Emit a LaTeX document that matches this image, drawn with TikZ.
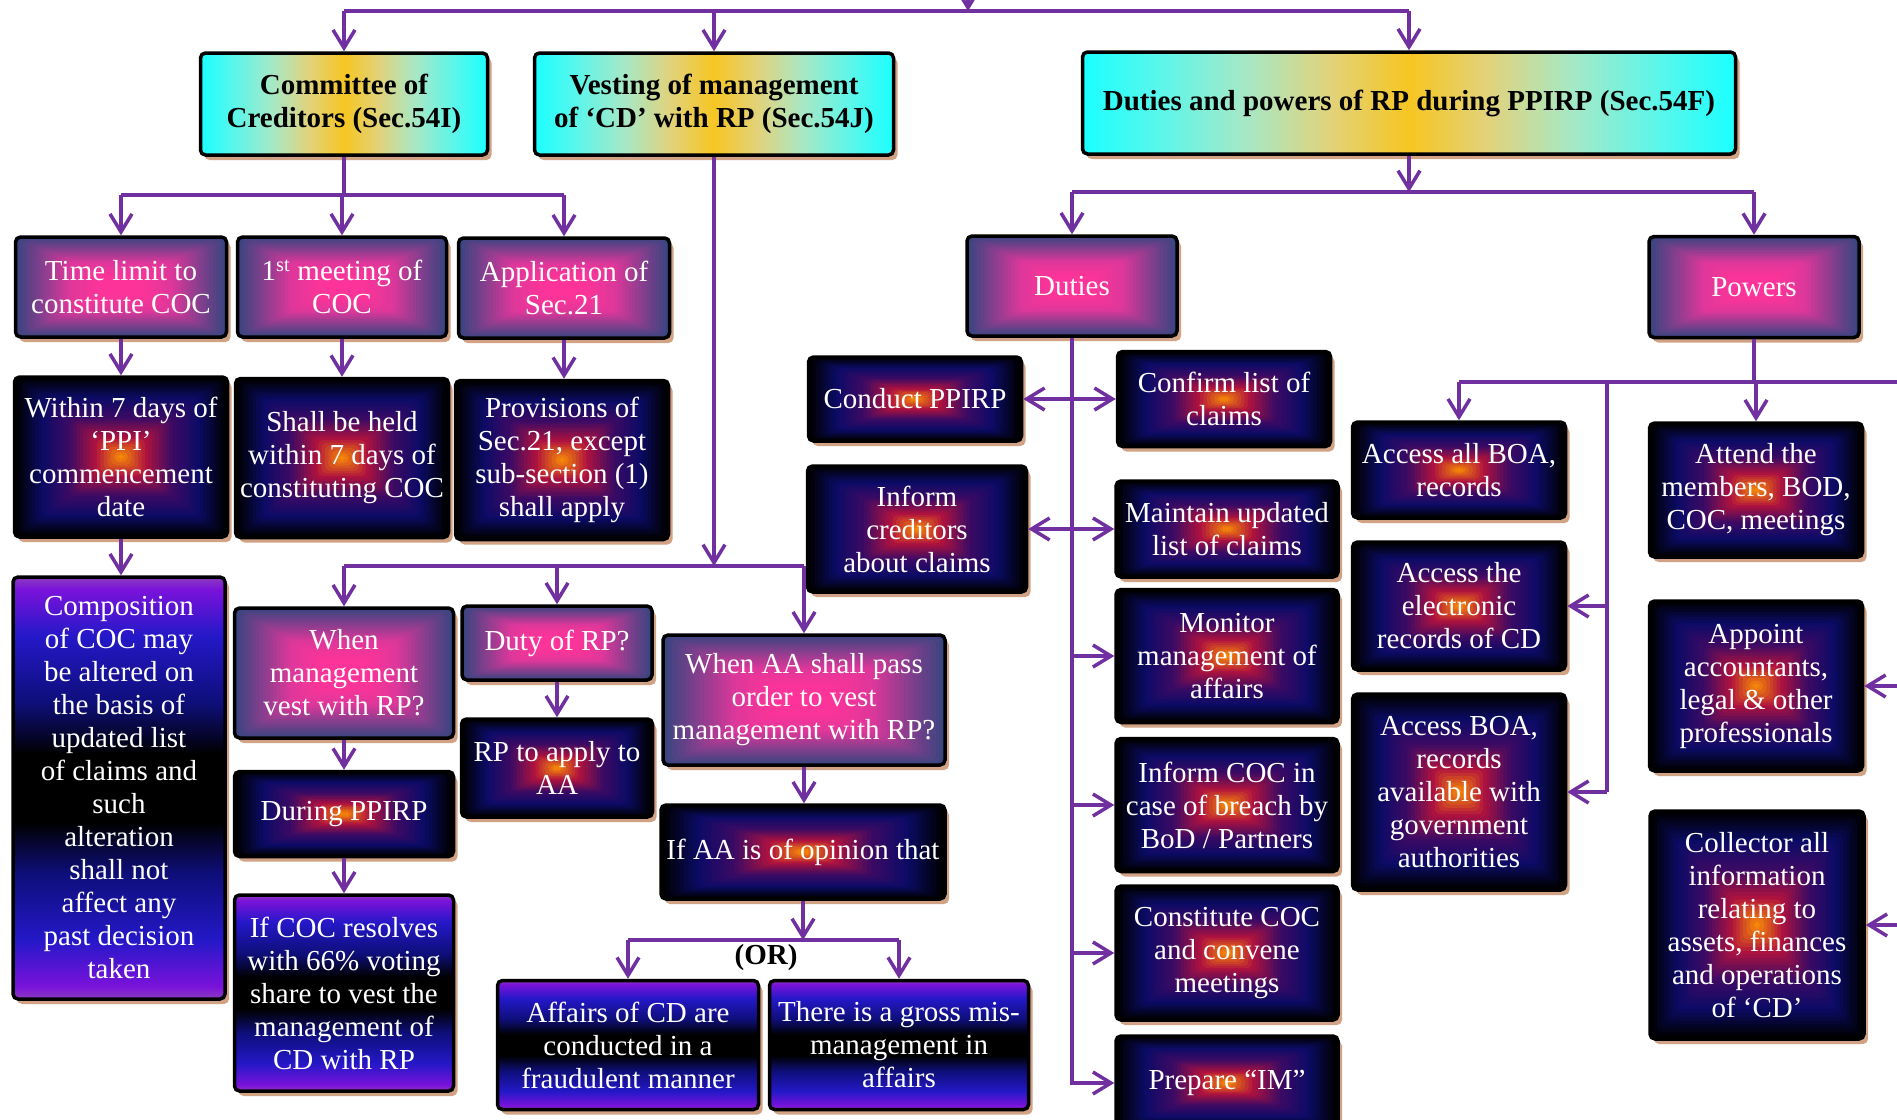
\documentclass[tikz,border=0pt]{standalone}
\usepackage{fontspec}
\setmainfont{Liberation Serif}
\usetikzlibrary{arrows.meta,calc,shadows}

% connectors and shadows
\definecolor{connc}{HTML}{7030A0}
\definecolor{shadowtan}{HTML}{D2A285}
% "fire" box palette, from the edge (0) to the centre (4)
\definecolor{fire0}{HTML}{000000}
\definecolor{fire1}{HTML}{0B0B66}
\definecolor{fire2}{HTML}{3C0A64}
\definecolor{fire3}{HTML}{B0123E}
\definecolor{fire4}{HTML}{FF9800}
% pink box palette, from the edge (0) to the centre (4)
\definecolor{pink0}{HTML}{3A4580}
\definecolor{pink1}{HTML}{8A3E8E}
\definecolor{pink2}{HTML}{DE379A}
\definecolor{pink3}{HTML}{FA3499}
\definecolor{pink4}{HTML}{FF3399}
% cyan/gold heading band
\definecolor{hb0}{HTML}{1AFFFF}
\definecolor{hb1}{HTML}{5CF6EA}
\definecolor{hb2}{HTML}{A6E8C6}
\definecolor{hb3}{HTML}{E2D27A}
\definecolor{hb4}{HTML}{F6C622}
% violet/blue/black band
\definecolor{vb0}{HTML}{8C3CC0}
\definecolor{vb1}{HTML}{7A12DA}
\definecolor{vb2}{HTML}{2418C8}
\definecolor{vb3}{HTML}{0E0E78}

\pgfdeclarehorizontalshading{hband}{100bp}{color(0bp)=(hb0); color(25bp)=(hb0);
  color(31bp)=(hb1); color(37.5bp)=(hb2); color(44bp)=(hb3); color(50bp)=(hb4);
  color(56bp)=(hb3); color(62.5bp)=(hb2); color(69bp)=(hb1); color(75bp)=(hb0); color(100bp)=(hb0)}
\pgfdeclareverticalshading{vband}{100bp}{color(0bp)=(vb0); color(25bp)=(vb0);
  color(26.5bp)=(vb1); color(32bp)=(vb2); color(40bp)=(vb3); color(46bp)=(black);
  color(54bp)=(black); color(60bp)=(vb3); color(68bp)=(vb2); color(73.5bp)=(vb1);
  color(75bp)=(vb0); color(100bp)=(vb0)}

% rectangular gradient: nested rectangles shrinking to the centre
\newcommand\nestgrad[2]{%
  \foreach \ngI in {0,...,#2}{%
    \pgfmathsetmacro\ngT{\ngI/(#2+1)}%
    \pgfmathtruncatemacro\ngK{min(3,floor(\ngT*4))}%
    \pgfmathtruncatemacro\ngN{\ngK+1}%
    \pgfmathsetmacro\ngP{(\ngT*4-\ngK)*100}%
    \pgfmathsetmacro\ngH{\ngT/2}%
    \path[fill=#1\ngN!\ngP!#1\ngK]
      ($(path picture bounding box.south west)!\ngH!(path picture bounding box.north east)$)
      rectangle
      ($(path picture bounding box.north east)!\ngH!(path picture bounding box.south west)$);
  }%
}

\tikzset{
  tipv/.tip={Straight Barb[length=18pt,width=22pt]},
  box/.style={draw=black, line width=3.5pt, rounded corners=5pt, inner sep=0pt,
    align=center, font=\fontsize{29pt}{33pt}\selectfont,
    drop shadow={shadow xshift=4pt, shadow yshift=-5pt, fill=shadowtan, opacity=1}},
  wh/.style 2 args={minimum width=#1pt, minimum height=#2pt},
  firebox/.style={box, text=white, path picture={\nestgrad{fire}{30}}},
  pinkbox/.style={box, text=white, path picture={\nestgrad{pink}{30}}},
  bandbox/.style={box, text=white, shade, shading=vband},
  headbox/.style={box, text=black, shade, shading=hband,
    font=\bfseries\fontsize{29pt}{33pt}\selectfont},
  conn/.style={draw=connc, line width=3.5pt},
  arr/.style={conn, -tipv},
  darr/.style={conn, tipv-tipv},
}

\begin{document}
\begin{tikzpicture}[x=1pt, y=-1pt]
\useasboundingbox (0,0) rectangle (1897,1119);
\fill[white] (0,0) rectangle (1897,1119);

% headings
\node[headbox, wh={287}{102}] (committee) at (344,104) {Committee of\\Creditors (Sec.54I)};
\node[headbox, wh={359}{102}] (vesting) at (714,104) {Vesting of management\\of ‘CD’ with RP (Sec.54J)};
\node[headbox, wh={653}{102}] (dutiespowers) at (1409,103) {Duties and powers of RP during PPIRP (Sec.54F)};

% committee of creditors branch
\node[pinkbox, wh={211}{100}] (timelimit) at (121,287) {Time limit to\\constitute COC};
\node[pinkbox, wh={209}{100}] (firstmeet) at (342,287) {1\textsuperscript{st} meeting of\\COC};
\node[pinkbox, wh={211}{100}] (application) at (564,288) {Application of\\Sec.21};
\node[firebox, wh={213}{160}] (within7) at (121,457) {Within 7 days of\\‘PPI’\\commencement\\date};
\node[firebox, wh={213}{159}] (shallheld) at (342,458) {Shall be held\\within 7 days of\\constituting COC};
\node[firebox, wh={213}{159}] (provisions) at (562,460) {Provisions of\\Sec.21, except\\sub-section (1)\\shall apply};
\node[bandbox, wh={212}{422}] (composition) at (119,788) {Composition\\of COC may\\be altered on\\the basis of\\updated list\\of claims and\\such\\alteration\\shall not\\affect any\\past decision\\taken};

% vesting of management branch
\node[pinkbox, wh={219}{130}] (whenmgmt) at (344,673) {When\\management\\vest with RP?};
\node[pinkbox, wh={190}{74}] (dutyrp) at (557,643) {Duty of RP?};
\node[pinkbox, wh={282}{130}] (whenaa) at (804,700) {When AA shall pass\\order to vest\\management with RP?};
\node[firebox, wh={219}{85}] (duringppirp) at (344,814) {During PPIRP};
\node[bandbox, wh={219}{196}] (ifcoc) at (344,993) {If COC resolves\\with 66\% voting\\share to vest the\\management of\\CD with RP};
\node[firebox, wh={191}{98}] (rpapply) at (557,768) {RP to apply to\\AA};
\node[firebox, wh={284}{94}] (ifaa) at (803,852) {If AA is of opinion that};
\node[bandbox, wh={261}{129}] (affairs) at (628,1045) {Affairs of CD are\\conducted in a\\fraudulent manner};
\node[bandbox, wh={259}{129}] (grossmis) at (899,1045) {There is a gross mis-\\management in\\affairs};
\node[font=\bfseries\fontsize{29pt}{33pt}\selectfont, inner sep=0pt] (ornote) at (766,958) {(OR)};

% duties of RP
\node[pinkbox, wh={210}{100}] (duties) at (1072,286) {Duties};
\node[firebox, wh={213}{84}] (conduct) at (915,399) {Conduct PPIRP};
\node[firebox, wh={213}{95}] (confirm) at (1224,399) {Confirm list of\\claims};
\node[firebox, wh={219}{126}] (informcred) at (917,529) {Inform\\creditors\\about claims};
\node[firebox, wh={222}{96}] (maintain) at (1227,529) {Maintain updated\\list of claims};
\node[firebox, wh={222}{133}] (monitor) at (1227,656) {Monitor\\management of\\affairs};
\node[firebox, wh={222}{133}] (informcoc) at (1227,805) {Inform COC in\\case of breach by\\BoD / Partners};
\node[firebox, wh={222}{134}] (constitute) at (1227,953) {Constitute COC\\and convene\\meetings};
\node[firebox, wh={222}{94}] (prepare) at (1227,1083) {Prepare “IM”};

% powers of RP
\node[pinkbox, wh={210}{101}] (powers) at (1754,287) {Powers};
\node[firebox, wh={213}{96}] (accessall) at (1459,470) {Access all BOA,\\records};
\node[firebox, wh={213}{128}] (accesselec) at (1459,606) {Access the\\electronic\\records of CD};
\node[firebox, wh={213}{196}] (accessboa) at (1459,792) {Access BOA,\\records\\available with\\government\\authorities};
\node[firebox, wh={213}{134}] (attend) at (1756,490) {Attend the\\members, BOD,\\COC, meetings};
\node[firebox, wh={213}{170}] (appoint) at (1756,686) {Appoint\\accountants,\\legal \& other\\professionals};
\node[firebox, wh={214}{228}] (collector) at (1757,925) {Collector all\\information\\relating to\\assets, finances\\and operations\\of ‘CD’};

% ---- connectors ----
% top bus
\coordinate (topy) at (0,11);
\coordinate (feed) at (968,-40);
\draw[conn] (committee.north |- topy) -- (dutiespowers.north |- topy);
\draw[arr] (feed) -- (feed |- topy);
\draw[arr] (committee.north |- topy) -- (committee.north);
\draw[arr] (vesting.north |- topy) -- (vesting.north);
\draw[arr] (dutiespowers.north |- topy) -- (dutiespowers.north);

% committee of creditors
\coordinate (cy) at (0,195);
\draw[conn] (committee.south) -- (committee.south |- cy);
\draw[conn] (timelimit.north |- cy) -- (application.north |- cy);
\draw[arr] (timelimit.north |- cy) -- (timelimit.north);
\draw[arr] (firstmeet.north |- cy) -- (firstmeet.north);
\draw[arr] (application.north |- cy) -- (application.north);
\draw[arr] (timelimit.south) -- (timelimit.south |- within7.north);
\draw[arr] (firstmeet.south) -- (firstmeet.south |- shallheld.north);
\draw[arr] (application.south) -- (application.south |- provisions.north);
\draw[arr] (within7.south) -- (within7.south |- composition.north);

% vesting of management
\coordinate (vy) at (0,566);
\draw[arr] (vesting.south) -- (vesting.south |- vy);
\draw[conn] (whenmgmt.north |- vy) -- (whenaa.north |- vy);
\draw[arr] (whenmgmt.north |- vy) -- (whenmgmt.north);
\draw[arr] (dutyrp.north |- vy) -- (dutyrp.north);
\draw[arr] (whenaa.north |- vy) -- (whenaa.north);
\draw[arr] (whenmgmt.south) -- (whenmgmt.south |- duringppirp.north);
\draw[arr] (duringppirp.south) -- (duringppirp.south |- ifcoc.north);
\draw[arr] (dutyrp.south) -- (dutyrp.south |- rpapply.north);
\draw[arr] (whenaa.south) -- (whenaa.south |- ifaa.north);
\coordinate (oy) at (0,940);
\draw[arr] (ifaa.south) -- (ifaa.south |- oy);
\draw[conn] (affairs.north |- oy) -- (grossmis.north |- oy);
\draw[arr] (affairs.north |- oy) -- (affairs.north);
\draw[arr] (grossmis.north |- oy) -- (grossmis.north);

% duties and powers
\coordinate (dy) at (0,192);
\draw[arr] (dutiespowers.south) -- (dutiespowers.south |- dy);
\draw[conn] (duties.north |- dy) -- (powers.north |- dy);
\draw[arr] (duties.north |- dy) -- (duties.north);
\draw[arr] (powers.north |- dy) -- (powers.north);

% duties spine
\draw[arr] (duties.south) |- (prepare.west);
\draw[darr] (conduct.east) -- (conduct.east -| confirm.west);
\draw[darr] (informcred.east) -- (informcred.east -| maintain.west);
\draw[arr] (duties.south |- monitor.west) -- (monitor.west);
\draw[arr] (duties.south |- informcoc.west) -- (informcoc.west);
\draw[arr] (duties.south |- constitute.west) -- (constitute.west);

% powers bus
\coordinate (py) at (0,382);
\coordinate (pright) at (1925,382);
\coordinate (pb) at (1607,382);
\draw[conn] (powers.south) -- (powers.south |- py);
\draw[conn] (accessall.north |- py) -- (pright);
\draw[arr] (accessall.north |- py) -- (accessall.north);
\draw[arr] (attend.north |- py) -- (attend.north);
\draw[conn] (pb) -- (pb |- accessboa.east);
\draw[arr] (pb |- accesselec.east) -- (accesselec.east);
\draw[arr] (pb |- accessboa.east) -- (accessboa.east);
\draw[conn] (pright) -- (pright |- collector.east);
\draw[arr] (pright |- appoint.east) -- (appoint.east);
\draw[arr] (pright |- collector.east) -- (collector.east);
\end{tikzpicture}
\end{document}
